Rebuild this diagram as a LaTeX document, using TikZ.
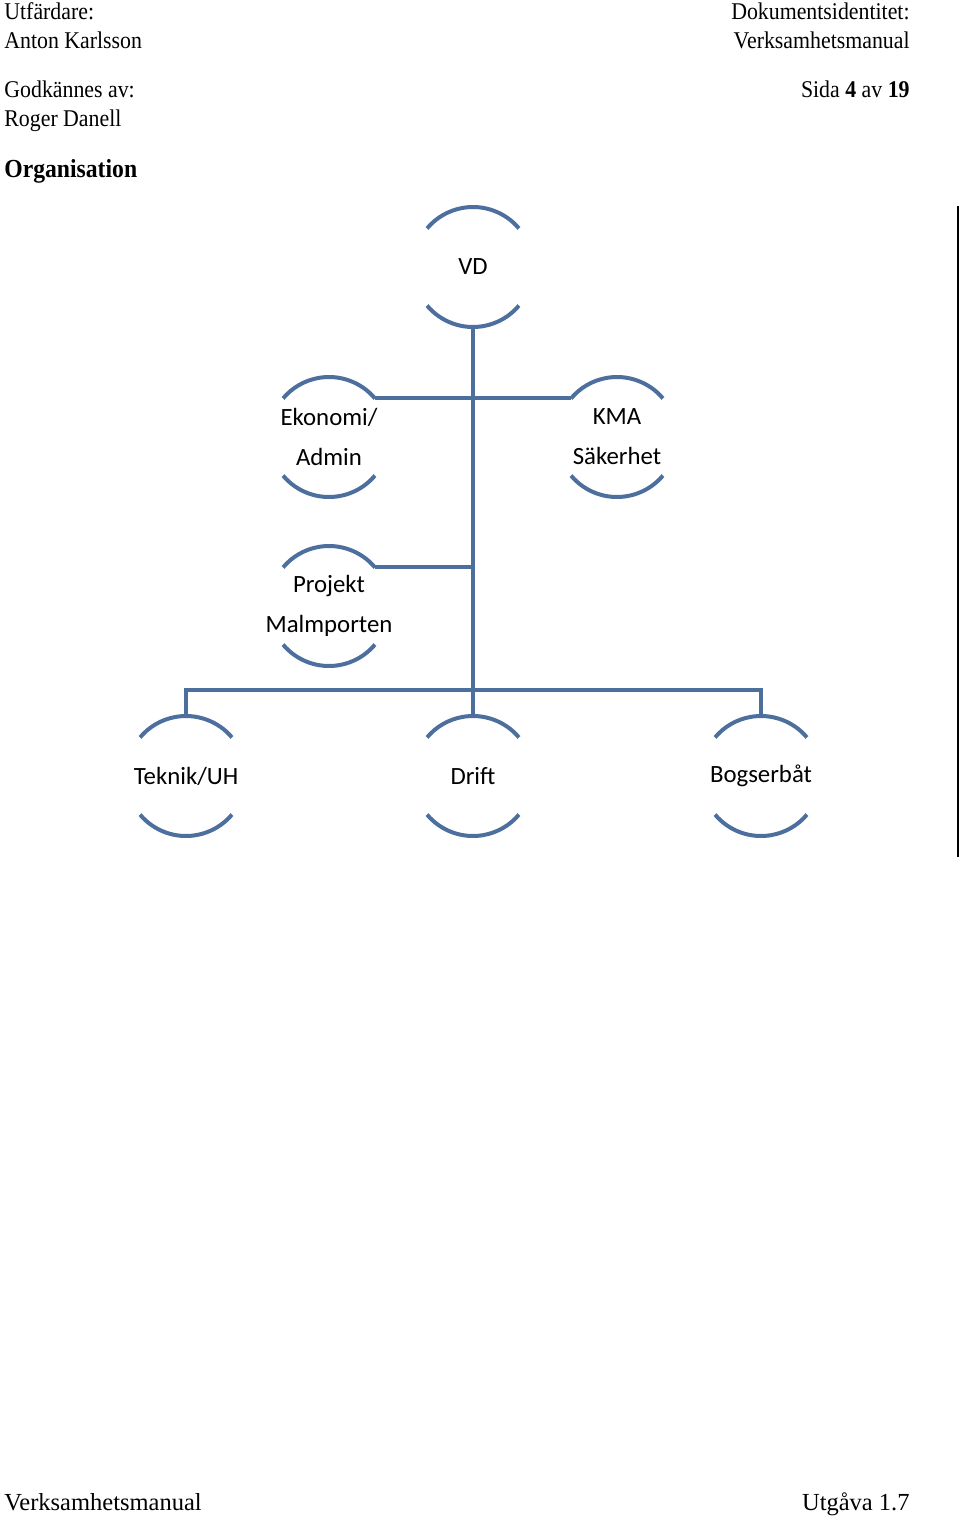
\documentclass[tikz,border=0pt]{standalone}
\usepackage{fontspec}
\setmainfont{Liberation Serif}
\newfontfamily\headfont{Liberation Serif}[FakeStretch=0.91]
\newfontfamily\calibri{Carlito}
\usetikzlibrary{positioning,calc}
\definecolor{orgblue}{RGB}{77,111,158}

\begin{document}
\begin{tikzpicture}[
    x=0.5pt, y=-0.5pt,
    unit/.style={
        inner sep=0pt,
        align=center,
        font=\calibri\fontsize{12.4}{20}\selectfont
    },
    rim/.style={
        line width=2pt,
        draw=orgblue
    },
    link/.style={
        line width=2pt,
        draw=orgblue
    },
    head/.style={
        inner sep=0pt,
        font=\headfont\fontsize{12}{14}\selectfont
    },
    foot/.style={
        inner sep=0pt,
        font=\fontsize{12.25}{14}\selectfont
    }
]
\useasboundingbox (0,0) rectangle (960,1517);

% Page header
\node[head, anchor=base west] (issuer) at (4,19) {Utfärdare:};
\node[head, anchor=base west] (issuername) at (4,48) {Anton Karlsson};
\node[head, anchor=base west] (approver) at (4,97) {Godkännes av:};
\node[head, anchor=base west] (approvername) at (4,126) {Roger Danell};
\node[head, anchor=base west, font=\headfont\bfseries\fontsize{13}{15}\selectfont] (title) at (4,177) {Organisation};
\node[head, anchor=base east] (docid) at (910,19) {Dokumentsidentitet:};
\node[head, anchor=base east] (docname) at (910,48) {Verksamhetsmanual};
\node[head, anchor=base east] (page) at (910,97) {Sida \textbf{4} av \textbf{19}};

% Units
\node[unit] (vd) at (473,267) {VD};
\node[unit] (eko) at (329,437) {Ekonomi/\\Admin};
\node[unit] (kma) at (617,437) {KMA\\Säkerhet};
\node[unit] (proj) at (329,606) {Projekt\\Malmporten};
\node[unit] (teknik) at (186,776) {Teknik/UH};
\node[unit] (drift) at (473,776) {Drift};
\node[unit] (bogs) at (761,776) {Bogserbåt};

% Rims
\foreach \n in {vd,eko,kma,proj,teknik,drift,bogs} {
    \coordinate (\n-top) at ($(\n.center)+(90:30pt)$);
    \coordinate (\n-bot) at ($(\n.center)+(270:30pt)$);
    \coordinate (\n-ne) at ($(\n.center)+(40:30pt)$);
    \coordinate (\n-nw) at ($(\n.center)+(140:30pt)$);
    \draw[rim] (\n-ne) arc[start angle=40, end angle=140, radius=30pt];
    \draw[rim] ($(\n.center)+(220:30pt)$) arc[start angle=220, end angle=320, radius=30pt];
}

% Links
\coordinate (bar) at (473,690);
\draw[link] (vd-bot) -- (drift-top);
\draw[link] (eko-ne) -- (kma-nw);
\draw[link] (proj-ne) -- (proj-ne -| vd-bot);
\draw[link] (teknik-top) |- (bar) -| (bogs-top);

% Margin bar
\coordinate (bartop) at (957.5,206);
\coordinate (barbot) at (957.5,857);
\draw[line width=1pt] (bartop) -- (barbot);

% Page footer
\node[foot, anchor=base west] (footname) at (4,1510) {Verksamhetsmanual};
\node[foot, anchor=base east] (footed) at (910,1510) {Utgåva 1.7};
\end{tikzpicture}
\end{document}
